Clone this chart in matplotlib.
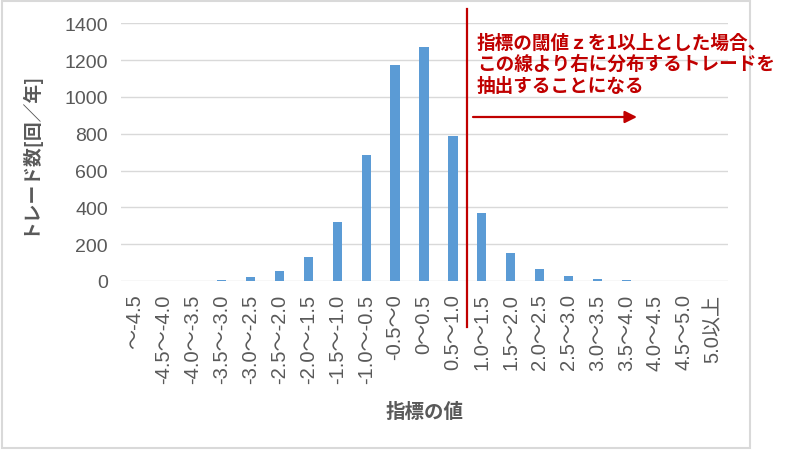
import matplotlib
matplotlib.use("Agg")
import matplotlib.pyplot as plt
from matplotlib.patches import Rectangle

plt.rcParams['font.family'] = ['Liberation Sans', 'Noto Sans CJK JP', 'DejaVu Sans']

categories = ["～-4.5", "-4.5～-4.0", "-4.0～-3.5", "-3.5～-3.0", "-3.0～-2.5",
              "-2.5～-2.0", "-2.0～-1.5", "-1.5～-1.0", "-1.0～-0.5", "-0.5～0",
              "0～0.5", "0.5～1.0", "1.0～1.5", "1.5～2.0", "2.0～2.5",
              "2.5～3.0", "3.0～3.5", "3.5～4.0", "4.0～4.5", "4.5～5.0", "5.0以上"]
trades = [0, 1, 1, 5, 24, 54, 132, 322, 686, 1175, 1273, 788,
          369, 153, 64, 25, 9, 4, 1, 0, 0]
yticks = [0, 200, 400, 600, 800, 1000, 1200, 1400]
threshold_index = 11.5  # boundary between 0.5～1.0 and 1.0～1.5

ylabel = "トレード数[回／年]"
xlabel = "指標の値"
note = "指標の閾値ｚを1以上とした場合、\nこの線より右に分布するトレードを\n抽出することになる"

BLUE = "#5B9BD5"
GRID = "#D9D9D9"
TXT = "#595959"
RED = "#C00000"

W, H = 794, 452
fig = plt.figure(figsize=(W / 100, H / 100), dpi=100)
fig.patch.set_facecolor("white")

AX_L, AX_W, AX_B, AX_H = 120.5, 607, 282, 257.7
ax = fig.add_axes([AX_L / W, 1 - AX_B / H, AX_W / W, AX_H / H])
x = list(range(len(categories)))
ax.bar(x, trades, width=0.32, color=BLUE, zorder=3)
ax.set_xlim(-0.5, len(categories) - 0.5)
ax.set_ylim(0, 1400)
ax.set_yticks(yticks)
ax.set_yticklabels([str(v) for v in yticks])
ax.yaxis.grid(True, color=GRID, linewidth=1.0, zorder=0)
ax.set_axisbelow(True)
for s in ax.spines.values():
    s.set_visible(False)
ax.tick_params(axis='y', length=0, pad=9, labelsize=14, labelcolor=TXT)
ax.set_xticks(x)
ax.set_xticklabels(categories, rotation=90, va='top', ha='center')
ax.tick_params(axis='x', length=0, pad=9, labelsize=14.5, labelcolor=TXT)

ax.set_ylabel(ylabel, fontsize=13.5, fontweight='bold', color=TXT,
              family=['Noto Sans CJK JP', 'DejaVu Sans'])
ax.yaxis.set_label_coords((38 - AX_L) / AX_W, 0.5)
fig.text(425 / W, 1 - 412 / H, xlabel, fontsize=14, fontweight='bold', color=TXT,
         family=['Noto Sans CJK JP', 'DejaVu Sans'], ha='center', va='center')

# threshold line
ax.axvline(threshold_index, ymin=(AX_B - 328) / AX_H, ymax=(AX_B - 10) / AX_H,
           color=RED, linewidth=1.6, clip_on=False, zorder=5)

# arrow
ax.annotate("", xy=(637 / W, 1 - 118 / H), xytext=(473 / W, 1 - 118 / H),
            xycoords='figure fraction', textcoords='figure fraction',
            arrowprops=dict(arrowstyle='-|>', color=RED, lw=1.6, mutation_scale=18,
                            shrinkA=0, shrinkB=0))

fig.text(477 / W, 1 - 34 / H, note, fontsize=13.4, fontweight='bold', color=RED,
         family=['Noto Sans CJK JP', 'DejaVu Sans'], ha='left', va='top',
         linespacing=1.15)

# chart border
fig.patches.append(Rectangle((2 / W, 1 - 449 / H), 748 / W, 447 / H,
                             transform=fig.transFigure, fill=False,
                             edgecolor="#D9D9D9", linewidth=1.5))

fig.savefig("out.png", dpi=100)
